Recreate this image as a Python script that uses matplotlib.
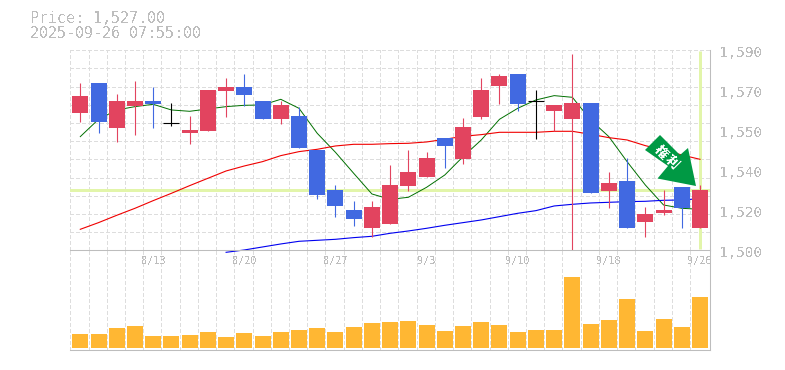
import matplotlib
matplotlib.use("Agg")
import matplotlib.pyplot as plt
from matplotlib.patches import Polygon
from matplotlib.transforms import Affine2D

# candle values, offset from 1500
opens = [61.8, 75.3, 55.05, 64.95, 67.2, 57.15, 52.8, 53.7, 71.7, 73.5, 67.2, 59.1, 60.45, 45.15, 27.15,
         18.15, 10.05, 11.85, 28.95, 33, 50.55, 41.1, 60, 73.95, 79.35, 67.05, 62.7, 59.1, 66.3, 26.7,
         31.2, 12.75, 16.8, 28.5, 10.05]
closes = [69.45, 57.75, 67.2, 67.2, 65.85, 57.15, 54.15, 72.15, 73.5, 69.9, 59.1, 65.4, 46.05, 24.9, 19.95,
          14.1, 19.5, 29.4, 35.25, 41.55, 46.95, 55.5, 72.15, 78.45, 65.85, 67.05, 65.4, 66.3, 25.8, 30.3,
          10.05, 16.35, 18.15, 19.05, 27.15]
highs = [75.3, 75.3, 70.35, 76.2, 73.5, 66.3, 60.45, 72.15, 77.55, 79.35, 67.2, 67.2, 64.5, 45.15, 29.4,
         22.2, 22.2, 38.4, 45.15, 44.25, 50.55, 59.55, 77.55, 79.35, 79.35, 72.15, 65.4, 88.35, 66.3, 35.25,
         41.55, 19.5, 27.15, 28.5, 29.4]
lows = [57.75, 52.8, 48.75, 51.9, 55.05, 55.95, 47.85, 53.7, 60, 64.95, 59.1, 56.85, 46.05, 23.1, 15,
        10.95, 6, 11.85, 26.7, 33, 37.05, 38.85, 59.1, 65.85, 62.7, 50.1, 53.55, 0, 25.8, 19.05,
        10.05, 6, 15.9, 10.05, 10.05]
candle_colors = ["r", "b", "r", "r", "b", "k", "r", "r", "r", "b", "b", "r", "b", "b", "b",
                 "b", "r", "r", "r", "r", "b", "r", "r", "r", "b", "k", "r", "r", "b", "r",
                 "b", "r", "r", "b", "r"]

ma_short = [51.15, 58.95, 63.15, 64.65, 65.7, 63.15, 62.55, 63.6, 64.65, 65.25, 65.4, 67.95, 63.9, 52.65, 44.1,
            34.65, 25.35, 22.95, 23.85, 28.35, 33.9, 42.15, 49.65, 58.95, 63.9, 67.65, 69.6, 68.85, 58.65, 51.15,
            39.9, 29.4, 20.4, 18.9, 18.45]
ma_mid = [9.45, 12.45, 15.75, 18.9, 22.35, 25.65, 29.1, 32.4, 35.7, 37.95, 39.9, 42.6, 44.4, 45.45, 46.95,
          47.7, 47.7, 48, 48.15, 48.75, 49.95, 51.3, 52.05, 53.1, 53.1, 53.1, 53.55, 53.55, 52.2, 50.7,
          49.65, 47.1, 45.15, 42.9, 40.95]
ma_long = [-0.9, 0.15, 1.5, 2.85, 4.05, 4.5, 4.95, 5.7, 6.3, 7.65, 8.7, 9.9, 11.25, 12.45, 13.65,
           15.15, 16.65, 17.85, 19.95, 20.7, 21.3, 21.6, 21.9, 22.05, 22.5, 22.65, 23.25]
ma_long_start = 8

volume = [14, 14, 20, 22, 12, 12, 13, 16, 11, 15, 12, 16, 18, 20, 16, 21, 25, 26, 27, 23, 17, 22, 26, 23, 16,
          18, 18, 71, 24, 28, 49, 17, 29, 21, 51]

price_ticks = [1590, 1572, 1554, 1536, 1518, 1500]
price_labels = ["1,590", "1,570", "1,550", "1,540", "1,520", "1,500"]
date_pos = [4, 9, 14, 19, 24, 29, 34]
date_labels = ["8/13", "8/20", "8/27", "9/3", "9/10", "9/18", "9/26"]
last_price = 1527

RED = "#e2445f"
BLUE = "#4169e1"
GREY = "#bdbdbd"
GRID = "#dddddd"
MARK = "#e2f5aa"
colmap = {"r": RED, "b": BLUE, "k": "black"}

W, H = 785, 370
plt.rcParams["font.family"] = ["DejaVu Sans Mono", "Noto Sans CJK JP"]
plt.rcParams["text.antialiased"] = False
fig = plt.figure(figsize=(W / 100, H / 100), dpi=100, facecolor="white")


def add_ax(left, top, right, bottom):
    return fig.add_axes([left / W, (H - bottom) / H, (right - left) / W, (bottom - top) / H])


ax = add_ax(70.3, 50.3, 710, 250.3)
vol = add_ax(70.3, 250.3, 710, 350.3)

xs = list(range(len(opens)))
xmin, xmax = -0.548, 34.55
grid_x = [i + xmin for i in range(35)]

for a in (ax, vol):
    a.set_xlim(xmin, xmax)
    a.set_xticks([])
    a.set_yticks([])
    a.patch.set_visible(False)
    for s in ("top", "left"):
        a.spines[s].set_visible(False)
    for s in ("bottom", "right"):
        a.spines[s].set_color(GREY)
        a.spines[s].set_linewidth(0.75)
    a.vlines(grid_x, 0, 1, transform=a.get_xaxis_transform(), color=GRID, lw=0.6,
             linestyles=(0, (4, 3.4)), zorder=0, antialiased=False)

ax.set_ylim(1500, 1590)
vol.set_ylim(-2.3, 97.7)
ax.set_zorder(2)

grid_y = [1500 + k * 90 / 11 for k in range(1, 12)]
ax.hlines(grid_y, 0, 1, transform=ax.get_yaxis_transform(), color=GRID, lw=0.6,
          linestyles=(0, (4, 3.4)), zorder=0, antialiased=False, clip_on=False)

# last price cross
ax.axhline(last_price, color=MARK, lw=2.16, zorder=1)
ax.plot([34, 34], [1500.6, 1589.6], color=MARK, lw=2.16, zorder=1, solid_capstyle="butt")

# moving averages sit under the candles
ax.plot(xs, [1500 + v for v in ma_short], color="#006f00", lw=0.7, zorder=2)
ax.plot(xs, [1500 + v for v in ma_mid], color="#f00000", lw=0.8, zorder=2)
ax.plot(list(range(ma_long_start, 35)), [1500 + v for v in ma_long], color="#0000f0", lw=0.8,
        zorder=2, clip_on=False)

for i in xs:
    c = colmap[candle_colors[i]]
    ax.vlines(i, 1500 + lows[i], 1500 + highs[i], color=c, lw=0.8, zorder=3)
    top = max(opens[i], closes[i])
    bot = min(opens[i], closes[i])
    if top == bot:
        ax.hlines(1500 + top, i - 0.44, i + 0.44, color=c, lw=0.8, zorder=3)
    else:
        ax.bar(i, top - bot, bottom=1500 + bot, width=0.877, color=c, linewidth=0, zorder=3)

vol.bar(xs, volume, width=0.877, color="#ffb733", linewidth=0, zorder=3)

for val, lab in zip(price_ticks, price_labels):
    ax.annotate(lab, xy=(1, val), xycoords=ax.get_yaxis_transform(), xytext=(9.5, -3),
                textcoords="offset pixels", color=GREY, fontsize=10.4, ha="left", va="center",
                annotation_clip=False)

for pos, lab in zip(date_pos, date_labels):
    ax.annotate(lab, xy=(pos, 0), xycoords=ax.get_xaxis_transform(), xytext=(0, -11),
                textcoords="offset pixels", color=GREY, fontsize=7.4, ha="center", va="center",
                annotation_clip=False)

fig.text(30 / W, (H - 18.5) / H, "Price: 1,527.00", color=GREY, fontsize=10.8, ha="left", va="center")
fig.text(30 / W, (H - 33.5) / H, "2025-09-26 07:55:00", color=GREY, fontsize=10.8, ha="left", va="center")

# signal arrow, drawn in pixels from the top left corner
to_px = Affine2D().scale(1, -1).translate(0, H)
arrow_pts = [(645, 150), (660, 135), (680, 155), (688, 148), (696, 186), (657.5, 178.5), (668, 166)]
fig.add_artist(Polygon(arrow_pts, closed=True, facecolor="#009944", edgecolor="none",
                       transform=to_px, zorder=6))
for ch, px, py in [("権", 660.7, 151.7), ("利", 671.7, 162.5)]:
    fig.text(px / W, (H - py) / H, ch, color="white", fontsize=9.5, fontweight="bold", rotation=-45,
             ha="center", va="center", family=["Noto Sans CJK JP"], zorder=7)

fig.savefig("out.png", dpi=100)
